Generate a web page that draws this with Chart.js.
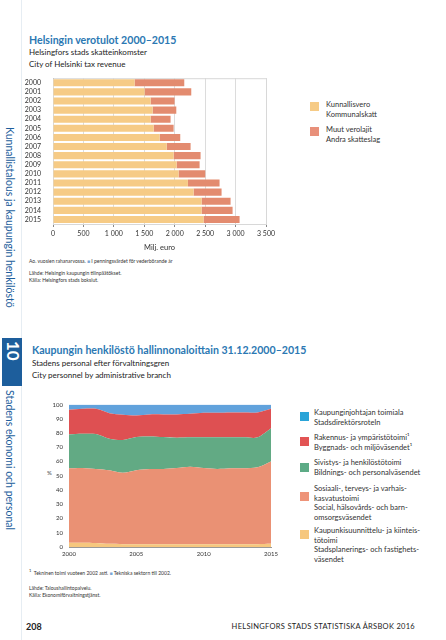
<!DOCTYPE html>
<html>
<head>
<meta charset="utf-8">
<script src="https://cdn.jsdelivr.net/npm/chart.js@4.4.1/dist/chart.umd.min.js"></script>
<style>
  body { margin: 0; background: #fff; font-family: Lato, 'Open Sans', sans-serif; color: #222; }
  #sivu { position: relative; width: 446px; height: 640px; overflow: hidden; }
  .abs { position: absolute; white-space: nowrap; }
  .otsikko { font-weight: bold; color: #2b78b3; font-size: 10.6px; }
  .ali { font-size: 8px; line-height: 11.5px; }
  .pieni { font-size: 5px; line-height: 6.5px; color: #333; }
  .selite { font-size: 7.5px; line-height: 9.5px; color: #333; }
  .ruutu { position: absolute; width: 9px; height: 9px; }
  .sivu-teksti { position: absolute; writing-mode: vertical-rl; color: #1d5e9c; font-size: 10.5px; white-space: nowrap; }
</style>
</head>
<body>
<div id="sivu">
  <div class="abs" style="left:21px; top:0; width:1px; height:640px; background:#e6edf3;"></div>

  <div class="sivu-teksti" style="left:4px; top:127px;">Kunnallistalous ja kaupungin henkilöstö</div>
  <div class="abs" style="left:2px; top:338px; width:20px; height:48px; background:#1d5e9c;"></div>
  <div class="sivu-teksti" style="left:3px; top:341px; color:#fff; font-weight:bold; font-size:17px;">10</div>
  <div class="sivu-teksti" style="left:4px; top:390px;">Stadens ekonomi och personal</div>

  <div class="abs otsikko" style="left:29px; top:34px;">Helsingin verotulot 2000–2015</div>
  <div class="abs ali" style="left:29px; top:47px;">Helsingfors stads skatteinkomster<br>City of Helsinki tax revenue</div>

  <canvas id="verotulot" width="290" height="182" style="position:absolute; left:0; top:70px;"></canvas>

  <div class="ruutu" style="left:310px; top:102px; background:#f6cb86;"></div>
  <div class="abs selite" style="left:326px; top:100px;">Kunnallisvero<br>Kommunalskatt</div>
  <div class="ruutu" style="left:310px; top:127px; background:#e8907a;"></div>
  <div class="abs selite" style="left:326px; top:125px;">Muut verolajit<br>Andra skatteslag</div>

  <div class="abs pieni" style="left:29px; top:258px;">Ao. vuosien rahanarvossa. <span style="color:#7aa7d6;">■</span> I penningsvärdet för vederbörande år</div>
  <div class="abs pieni" style="left:29px; top:270px;">Lähde: Helsingin kaupungin tilinpäätökset.<br>Källa: Helsingfors stads bokslut.</div>

  <div class="abs" style="left:20px; top:345px; width:2px; height:36px; background:#1d5e9c;"></div>
  <div class="abs otsikko" style="left:32px; top:344px;">Kaupungin henkilöstö hallinnonaloittain 31.12.2000–2015</div>
  <div class="abs ali" style="left:32px; top:358px;">Stadens personal efter förvaltningsgren<br>City personnel by administrative branch</div>

  <div class="abs" style="left:47px; top:469px; font-size:6px; color:#444;">%</div>
  <canvas id="henkilosto" width="262" height="168" style="position:absolute; left:20px; top:395px;"></canvas>

  <div class="ruutu" style="left:300px; top:412px; background:#2aa4d8;"></div>
  <div class="abs selite" style="left:314px; top:408px;">Kaupunginjohtajan toimiala<br>Stadsdirektörsroteln</div>
  <div class="ruutu" style="left:300px; top:437px; background:#e25454;"></div>
  <div class="abs selite" style="left:314px; top:433px;">Rakennus- ja ympäristötoimi¹<br>Byggnads- och miljöväsendet¹</div>
  <div class="ruutu" style="left:300px; top:463px; background:#5dab86;"></div>
  <div class="abs selite" style="left:314px; top:458px;">Sivistys- ja henkilöstötoimi<br>Bildnings- och personalväsendet</div>
  <div class="ruutu" style="left:300px; top:492px; background:#ee9479;"></div>
  <div class="abs selite" style="left:314px; top:484px;">Sosiaali-, terveys- ja varhais-<br>kasvatustoimi<br>Social, hälsovårds- och barn-<br>omsorgsväsendet</div>
  <div class="ruutu" style="left:300px; top:530px; background:#f6c77e;"></div>
  <div class="abs selite" style="left:314px; top:526px;">Kaupunkisuunnittelu- ja kiinteis-<br>tötoimi<br>Stadsplanerings- och fastighets-<br>väsendet</div>

  <div class="abs pieni" style="left:29px; top:568px;"><sup>1</sup> &nbsp;Tekninen toimi vuoteen 2002 asti. <span style="color:#7aa7d6;">■</span> Tekniska sektorn till 2002.</div>
  <div class="abs pieni" style="left:29px; top:585px;">Lähde: Taloushallintopalvelu.<br>Källa: Ekonomiförvaltningstjänst.</div>

  <div class="abs" style="left:26px; top:621px; font-size:9px; font-weight:bold;">208</div>
  <div class="abs" style="right:31px; top:622px; font-size:7.5px; letter-spacing:0.3px;">HELSINGFORS STADS STATISTISKA ÅRSBOK 2016</div>
</div>

<script>
// verotulot, milj. euroa
const vuodet = ['2000','2001','2002','2003','2004','2005','2006','2007','2008','2009','2010','2011','2012','2013','2014','2015'];
const kunnallisvero = [1341,1505,1604,1637,1604,1653,1752,1867,1982,2031,2064,2217,2310,2442,2442,2474];
const muutVerolajit = [816,767,394,389,328,329,339,394,443,378,438,520,460,476,509,592];
const euroTicks = [0,500,1000,1500,2000,2500,3000,3500];

// henkilöstö hallinnonaloittain, %
const kaupunkisuunnittelu = [3,3,2.8,2.2,2,2,2,2,2,2,2,2,2,2,2,2.3];
const sosiaali = [52.3,52.5,52,51.7,50.1,51.9,52.8,52.8,53.5,54.4,53.5,52.8,53.3,53.3,54,57.8];
const sivistys = [23.7,24,24.5,22.1,23,23.3,22.8,22.4,21.2,20.6,21.5,22.2,21.7,21.7,21,23.1];
const rakennus = [17.3,17.5,17.7,18,17.8,15.2,15.5,15.9,16.4,16.5,17.2,17.2,17.5,17.5,17.5,13.8];
const kaupunginjohtaja = [3.7,3,3,6,7.1,7.6,6.9,6.9,6.9,6.5,5.8,5.8,5.5,5.5,5.5,3];

Chart.defaults.font.family = 'Lato';
Chart.defaults.color = '#333';

// harmaa kehys kuvaajan ympärille
const kehys = {
    id: 'kehys',
    beforeDatasetsDraw(chart) {
        const a = chart.chartArea;
        const ctx = chart.ctx;
        ctx.save();
        ctx.strokeStyle = '#d8d8d8';
        ctx.lineWidth = 1;
        ctx.strokeRect(a.left + 0.5, a.top + 0.5, a.right - a.left, a.bottom - a.top);
        ctx.restore();
    }
};

function luku(v) {
    return v >= 1000 ? Math.floor(v / 1000) + ' ' + String(v % 1000).padStart(3, '0') : String(v);
}

new Chart(document.getElementById('verotulot'), {
    type: 'bar',
    data: {
        labels: vuodet,
        datasets: [
            { label: 'Kunnallisvero', data: kunnallisvero, backgroundColor: '#f6cb86' },
            { label: 'Muut verolajit', data: muutVerolajit, backgroundColor: '#e38b6f' }
        ]
    },
    options: {
        responsive: false,
        animation: false,
        indexAxis: 'y',
        categoryPercentage: 1,
        barPercentage: 0.78,
        layout: { padding: { top: 6, right: 24, bottom: 0, left: 0 } },
        plugins: { legend: { display: false }, tooltip: { enabled: false } },
        scales: {
            x: {
                stacked: true,
                min: 0, max: 3500,
                afterBuildTicks: s => { s.ticks = euroTicks.map(v => ({ value: v })); },
                afterFit: s => { s.height = 28; },
                ticks: { font: { size: 7 }, padding: 3, callback: v => luku(v) },
                grid: { color: '#dcdcdc', tickLength: 3, tickColor: '#888' },
                border: { color: '#888' },
                title: { display: true, text: 'Milj. euro', font: { size: 7.5 }, padding: 0 }
            },
            y: {
                stacked: true,
                afterFit: s => { s.width = 53; },
                ticks: { font: { size: 7 }, padding: 4, autoSkip: false },
                grid: { display: false },
                border: { color: '#888' }
            }
        }
    },
    plugins: [kehys]
});

const sarjat = [
    { label: 'Kaupunkisuunnittelu- ja kiinteistötoimi', data: kaupunkisuunnittelu, color: '#f6c77e', fill: 'origin' },
    { label: 'Sosiaali-, terveys- ja varhaiskasvatustoimi', data: sosiaali, color: '#ea9174', fill: '-1' },
    { label: 'Sivistys- ja henkilöstötoimi', data: sivistys, color: '#62aa84', fill: '-1' },
    { label: 'Rakennus- ja ympäristötoimi', data: rakennus, color: '#de5052', fill: '-1' },
    { label: 'Kaupunginjohtajan toimiala', data: kaupunginjohtaja, color: '#61a2dc', fill: '-1' }
];

new Chart(document.getElementById('henkilosto'), {
    type: 'line',
    data: {
        labels: vuodet,
        datasets: sarjat.map(s => ({
            label: s.label,
            data: s.data,
            backgroundColor: s.color,
            borderColor: s.color,
            borderWidth: 0,
            pointRadius: 0,
            fill: s.fill,
            tension: 0.3
        }))
    },
    options: {
        responsive: false,
        animation: false,
        layout: { padding: { top: 8, right: 11, bottom: 0, left: 0 } },
        plugins: { legend: { display: false }, tooltip: { enabled: false } },
        scales: {
            x: {
                afterFit: s => { s.height = 16; },
                ticks: {
                    autoSkip: false, maxRotation: 0, font: { size: 6 }, padding: 3,
                    callback: function (v) { const t = this.getLabelForValue(v); return t % 5 === 0 ? t : ''; }
                },
                grid: { display: false, drawTicks: false },
                border: { color: '#999' }
            },
            y: {
                stacked: true,
                min: 0, max: 100,
                afterFit: s => { s.width = 49; },
                ticks: { stepSize: 10, font: { size: 6 }, padding: 6 },
                grid: { display: false, drawTicks: false },
                border: { display: false }
            }
        }
    }
});
</script>
</body>
</html>
